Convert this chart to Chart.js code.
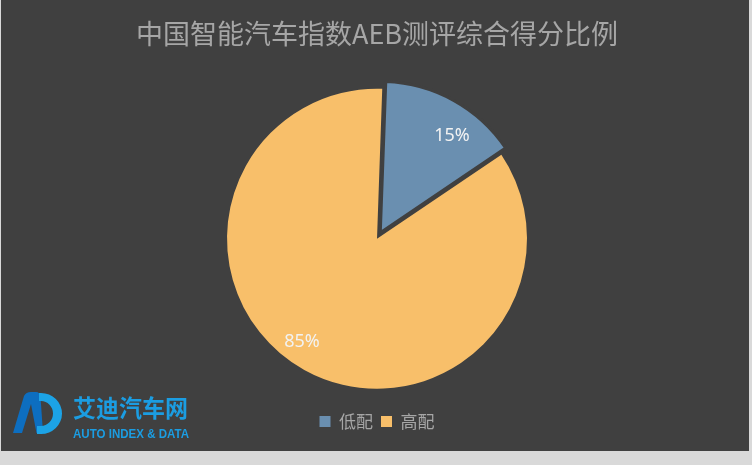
<!DOCTYPE html>
<html>
<head>
    <meta charset="utf-8">
    <title>AEB score share</title>
    <script src="https://cdn.jsdelivr.net/npm/chart.js@4"></script>
    <style>
        body { margin: 0; background: #d9d9d9; width: 752px; height: 465px; position: relative; overflow: hidden; }
        #card { position: absolute; left: 1px; top: 0; width: 748px; height: 451px; background: #404040; }
        #logo { position: absolute; left: 0; top: 0; pointer-events: none; }
    </style>
</head>
<body>
    <div id="card"><canvas id="pieChart"></canvas></div>

    <svg id="logo" width="752" height="465">
        <path d="M13,433 L24,396 Q26,392 31,392 L36,392 Q40,392 40.5,397 L43,433 L36.5,433 L31,404 L22,433 Z" fill="#0d6ec0"/>
        <path d="M39,393 L41,393 A21,20.5 0 0 1 41,434 L37,434 L37,426 L41,426 A12,12.5 0 0 0 41,401 L39,401 Z" fill="#1ca3e6"/>
        <text x="73" y="417" font-family="Noto Sans CJK SC" font-weight="bold" font-size="24" fill="#1b9de2"
              textLength="115" lengthAdjust="spacingAndGlyphs">艾迪汽车网</text>
        <text x="73" y="437.5" font-family="Liberation Sans" font-weight="bold" font-size="12.5" fill="#1b9de2"
              textLength="116" lengthAdjust="spacingAndGlyphs">AUTO INDEX &amp; DATA</text>
    </svg>

    <script>
        const TITLE = '中国智能汽车指数AEB测评综合得分比例';
        const categories = ['低配', '高配'];
        const shares = [15, 85];
        const sliceColors = ['#6a8fb0', '#f8bf6a'];

        const TEXT_GREY = '#a6a6a6';

        // percent labels inside the slices (like the office chart data labels)
        const pctLabels = {
            id: 'pctLabels',
            afterDatasetsDraw(chart) {
                const ctx = chart.ctx;
                const meta = chart.getDatasetMeta(0);
                const total = shares.reduce((a, b) => a + b, 0);
                ctx.save();
                ctx.font = '18px "Noto Sans"';
                ctx.fillStyle = '#f2f2f2';
                ctx.textAlign = 'center';
                ctx.textBaseline = 'middle';
                meta.data.forEach((arc, i) => {
                    const p = arc.getProps(['x', 'y', 'startAngle', 'endAngle', 'outerRadius'], true);
                    const mid = (p.startAngle + p.endAngle) / 2 + 7 * Math.PI / 180;
                    const r = p.outerRadius * 0.85;
                    const txt = Math.round(shares[i] / total * 100) + '%';
                    ctx.fillText(txt, p.x + Math.cos(mid) * r, p.y + Math.sin(mid) * r);
                });
                ctx.restore();
            }
        };

        new Chart(document.getElementById('pieChart'), {
            type: 'pie',
            data: {
                labels: categories,
                datasets: [{
                    data: shares,
                    backgroundColor: sliceColors,
                    borderColor: '#404040',
                    borderWidth: [3, 0],
                    offset: [27, 0]
                }]
            },
            options: {
                responsive: true,
                maintainAspectRatio: false,
                animation: false,
                rotation: 2,
                radius: 150,
                layout: { padding: { left: 4, right: 0, top: 0, bottom: 11 } },
                plugins: {
                    title: {
                        display: true,
                        text: TITLE,
                        color: TEXT_GREY,
                        font: { family: '"Noto Sans CJK SC"', size: 27, weight: 'normal' },
                        padding: { top: 18, bottom: 22 }
                    },
                    legend: {
                        position: 'bottom',
                        labels: {
                            color: TEXT_GREY,
                            font: { family: '"Noto Sans CJK SC"', size: 17 },
                            boxWidth: 11,
                            boxHeight: 11,
                            padding: 8,
                            generateLabels(chart) {
                                const items = Chart.overrides.pie.plugins.legend.labels.generateLabels(chart);
                                items.forEach(it => { it.lineWidth = 0; it.strokeStyle = it.fillStyle; });
                                return items;
                            }
                        }
                    },
                    tooltip: { enabled: false }
                }
            },
            plugins: [pctLabels]
        });
    </script>
</body>
</html>
